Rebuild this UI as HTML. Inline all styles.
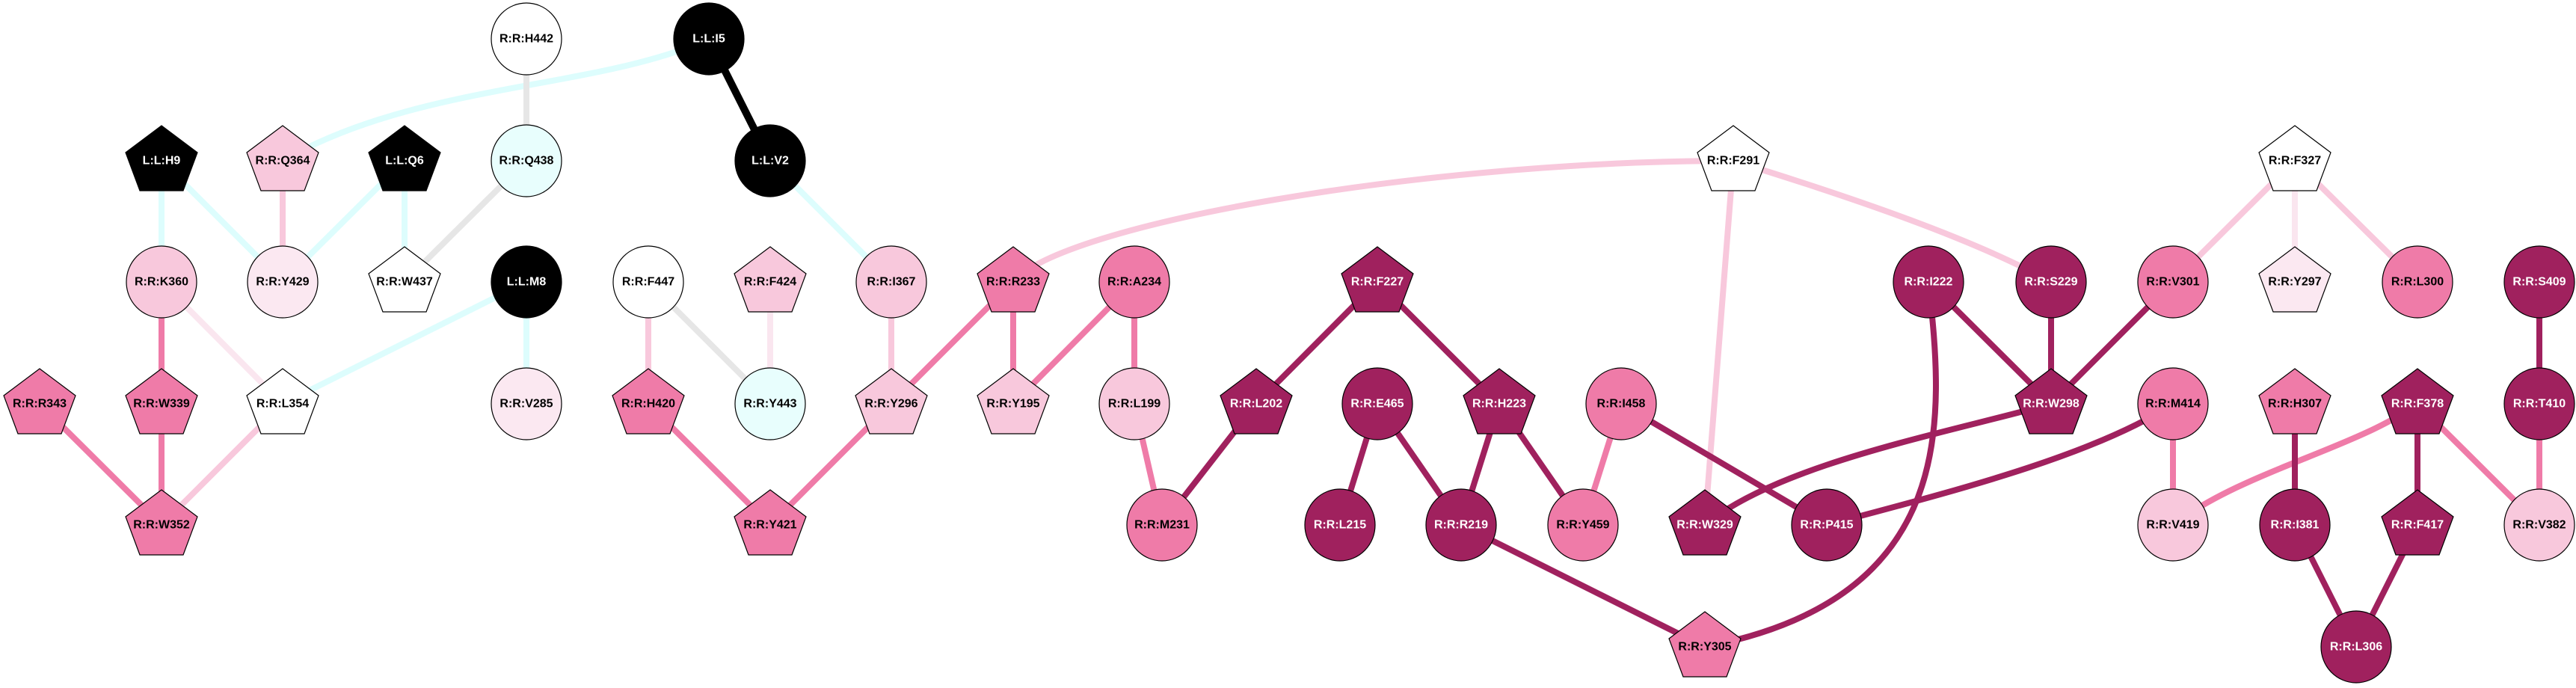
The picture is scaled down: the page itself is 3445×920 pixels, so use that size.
<!DOCTYPE html>
<html><head><meta charset="utf-8"><style>
html,body{margin:0;padding:0;background:#fff;}
svg{display:block;}
text{font-family:"Liberation Sans",sans-serif;font-weight:bold;font-size:16px;text-anchor:middle;dominant-baseline:central;}
.w{fill:#fff}.b{fill:#000}
</style></head><body>
<svg width="3445" height="920" viewBox="0 0 3445 920" xmlns="http://www.w3.org/2000/svg">
<defs>
<polygon id="P" points="0,-47 48,-11 29,40 -29,40 -48,-11" stroke="#000" stroke-width="1.2"/>
</defs>
<g fill="none" stroke-width="8">
<!-- cyan -->
<g stroke="#DDFDFD">
<path d="M948 52 C 800 120, 560 110, 378 215"/>
<line x1="1030" y1="215" x2="1192" y2="377"/>
<line x1="216" y1="215" x2="216" y2="377"/>
<line x1="216" y1="215" x2="378" y2="377"/>
<line x1="541" y1="215" x2="378" y2="377"/>
<line x1="541" y1="215" x2="541" y2="377"/>
<line x1="704" y1="377" x2="378" y2="540"/>
<line x1="704" y1="377" x2="704" y2="540"/>
</g>
<line x1="948" y1="52" x2="1030" y2="215" stroke="#000" stroke-width="10"/>
<!-- gray -->
<g stroke="#E6E6E6">
<line x1="704" y1="52" x2="704" y2="215"/>
<line x1="704" y1="215" x2="541" y2="377"/>
<line x1="867" y1="377" x2="1030" y2="540"/>
</g>
<!-- very light -->
<g stroke="#FAE6EF">
<line x1="216" y1="377" x2="378" y2="540"/>
<line x1="1030" y1="377" x2="1030" y2="540"/>
<line x1="3069" y1="215" x2="3069" y2="377"/>
</g>
<!-- light pink -->
<g stroke="#F8C8DC">
<line x1="378" y1="215" x2="378" y2="377"/>
<line x1="378" y1="540" x2="216" y2="702"/>
<line x1="867" y1="377" x2="867" y2="540"/>
<line x1="1192" y1="377" x2="1192" y2="540"/>
<path d="M1355 377 C 1420 300, 1900 215, 2318 215"/>
<path d="M2318 215 C 2480 265, 2640 320, 2743 377"/>
<line x1="2318" y1="215" x2="2280" y2="702"/>
<line x1="3069" y1="215" x2="2906" y2="377"/>
<line x1="3069" y1="215" x2="3233" y2="377"/>
</g>
<!-- medium -->
<g stroke="#EF7BA8">
<line x1="216" y1="377" x2="216" y2="540"/>
<line x1="53" y1="540" x2="216" y2="702"/>
<line x1="216" y1="540" x2="216" y2="702"/>
<line x1="867" y1="540" x2="1030" y2="702"/>
<line x1="1192" y1="540" x2="1030" y2="702"/>
<line x1="1355" y1="377" x2="1192" y2="540"/>
<line x1="1355" y1="377" x2="1355" y2="540"/>
<line x1="1517" y1="377" x2="1355" y2="540"/>
<line x1="1517" y1="377" x2="1517" y2="540"/>
<line x1="1517" y1="540" x2="1554" y2="702"/>
<line x1="2168" y1="540" x2="2117" y2="702"/>
<line x1="2906" y1="540" x2="2906" y2="702"/>
<path d="M3233 540 C 3150 600, 3000 630, 2906 702"/>
<line x1="3233" y1="540" x2="3396" y2="702"/>
<line x1="3396" y1="540" x2="3396" y2="702"/>
</g>
<!-- dark -->
<g stroke="#A0215E">
<line x1="1842" y1="377" x2="1680" y2="540"/>
<line x1="1842" y1="377" x2="2005" y2="540"/>
<line x1="1680" y1="540" x2="1554" y2="702"/>
<line x1="1842" y1="540" x2="1792" y2="702"/>
<line x1="1842" y1="540" x2="1954" y2="702"/>
<line x1="2005" y1="540" x2="1954" y2="702"/>
<line x1="2005" y1="540" x2="2117" y2="702"/>
<line x1="2168" y1="540" x2="2443" y2="702"/>
<line x1="1954" y1="702" x2="2280" y2="865"/>
<line x1="2579" y1="377" x2="2743" y2="540"/>
<line x1="2743" y1="377" x2="2743" y2="540"/>
<line x1="2906" y1="377" x2="2743" y2="540"/>
<path d="M2743 540 C 2600 580, 2380 620, 2280 702"/>
<path d="M2906 540 C 2800 610, 2600 660, 2443 702"/>
<path d="M2579 377 C 2600 560, 2620 800, 2280 865"/>
<line x1="3069" y1="540" x2="3069" y2="702"/>
<line x1="3233" y1="540" x2="3233" y2="702"/>
<line x1="3396" y1="377" x2="3396" y2="540"/>
<line x1="3069" y1="702" x2="3151" y2="865"/>
<line x1="3233" y1="702" x2="3151" y2="865"/>
</g>
</g>
<g stroke="#000" stroke-width="1.2">
<!-- circles -->
<ellipse cx="704" cy="52" rx="47" ry="48" fill="#fff"/>
<ellipse cx="948" cy="52" rx="47" ry="48" fill="#000"/>
<ellipse cx="704" cy="215" rx="47" ry="48" fill="#E8FEFD"/>
<ellipse cx="1030" cy="215" rx="47" ry="48" fill="#000"/>
<ellipse cx="216" cy="377" rx="47" ry="48" fill="#F8C8DC"/>
<ellipse cx="378" cy="377" rx="47" ry="48" fill="#FBE8F1"/>
<ellipse cx="704" cy="377" rx="47" ry="48" fill="#000"/>
<ellipse cx="867" cy="377" rx="47" ry="48" fill="#fff"/>
<ellipse cx="1192" cy="377" rx="47" ry="48" fill="#F8C8DC"/>
<ellipse cx="1517" cy="377" rx="47" ry="48" fill="#EF7BA8"/>
<ellipse cx="2579" cy="377" rx="47" ry="48" fill="#A0215E"/>
<ellipse cx="2743" cy="377" rx="47" ry="48" fill="#A0215E"/>
<ellipse cx="2906" cy="377" rx="47" ry="48" fill="#EF7BA8"/>
<ellipse cx="3233" cy="377" rx="47" ry="48" fill="#EF7BA8"/>
<ellipse cx="3396" cy="377" rx="47" ry="48" fill="#A0215E"/>
<ellipse cx="704" cy="540" rx="47" ry="48" fill="#FBE8F1"/>
<ellipse cx="1030" cy="540" rx="47" ry="48" fill="#E8FEFD"/>
<ellipse cx="1517" cy="540" rx="47" ry="48" fill="#F8C8DC"/>
<ellipse cx="1842" cy="540" rx="47" ry="48" fill="#A0215E"/>
<ellipse cx="2168" cy="540" rx="47" ry="48" fill="#EF7BA8"/>
<ellipse cx="2906" cy="540" rx="47" ry="48" fill="#EF7BA8"/>
<ellipse cx="3396" cy="540" rx="47" ry="48" fill="#A0215E"/>
<ellipse cx="1554" cy="702" rx="47" ry="48" fill="#EF7BA8"/>
<ellipse cx="1792" cy="702" rx="47" ry="48" fill="#A0215E"/>
<ellipse cx="1954" cy="702" rx="47" ry="48" fill="#A0215E"/>
<ellipse cx="2117" cy="702" rx="47" ry="48" fill="#EF7BA8"/>
<ellipse cx="2443" cy="702" rx="47" ry="48" fill="#A0215E"/>
<ellipse cx="2906" cy="702" rx="47" ry="48" fill="#F8C8DC"/>
<ellipse cx="3069" cy="702" rx="47" ry="48" fill="#A0215E"/>
<ellipse cx="3396" cy="702" rx="47" ry="48" fill="#F8C8DC"/>
<ellipse cx="3151" cy="865" rx="47" ry="48" fill="#A0215E"/>
</g>
<!-- pentagons -->
<use href="#P" x="216" y="215" fill="#000"/>
<use href="#P" x="378" y="215" fill="#F8C8DC"/>
<use href="#P" x="541" y="215" fill="#000"/>
<use href="#P" x="2318" y="215" fill="#fff"/>
<use href="#P" x="3069" y="215" fill="#fff"/>
<use href="#P" x="541" y="377" fill="#fff"/>
<use href="#P" x="1030" y="377" fill="#F8C8DC"/>
<use href="#P" x="1355" y="377" fill="#EF7BA8"/>
<use href="#P" x="1842" y="377" fill="#A0215E"/>
<use href="#P" x="3069" y="377" fill="#FBE8F1"/>
<use href="#P" x="53" y="540" fill="#EF7BA8"/>
<use href="#P" x="216" y="540" fill="#EF7BA8"/>
<use href="#P" x="378" y="540" fill="#fff"/>
<use href="#P" x="867" y="540" fill="#EF7BA8"/>
<use href="#P" x="1192" y="540" fill="#F8C8DC"/>
<use href="#P" x="1355" y="540" fill="#F8C8DC"/>
<use href="#P" x="1680" y="540" fill="#A0215E"/>
<use href="#P" x="2005" y="540" fill="#A0215E"/>
<use href="#P" x="2743" y="540" fill="#A0215E"/>
<use href="#P" x="3069" y="540" fill="#EF7BA8"/>
<use href="#P" x="3233" y="540" fill="#A0215E"/>
<use href="#P" x="216" y="702" fill="#EF7BA8"/>
<use href="#P" x="1030" y="702" fill="#EF7BA8"/>
<use href="#P" x="2280" y="702" fill="#A0215E"/>
<use href="#P" x="3233" y="702" fill="#A0215E"/>
<use href="#P" x="2280" y="865" fill="#EF7BA8"/>
<!-- labels -->
<text x="704" y="52">R:R:H442</text>
<text x="948" y="52" class="w">L:L:I5</text>
<text x="216" y="215" class="w">L:L:H9</text>
<text x="378" y="215">R:R:Q364</text>
<text x="541" y="215" class="w">L:L:Q6</text>
<text x="704" y="215">R:R:Q438</text>
<text x="1030" y="215" class="w">L:L:V2</text>
<text x="2318" y="215">R:R:F291</text>
<text x="3069" y="215">R:R:F327</text>
<text x="216" y="377">R:R:K360</text>
<text x="378" y="377">R:R:Y429</text>
<text x="541" y="377">R:R:W437</text>
<text x="704" y="377" class="w">L:L:M8</text>
<text x="867" y="377">R:R:F447</text>
<text x="1030" y="377">R:R:F424</text>
<text x="1192" y="377">R:R:I367</text>
<text x="1355" y="377">R:R:R233</text>
<text x="1517" y="377">R:R:A234</text>
<text x="1842" y="377" class="w">R:R:F227</text>
<text x="2579" y="377" class="w">R:R:I222</text>
<text x="2743" y="377" class="w">R:R:S229</text>
<text x="2906" y="377">R:R:V301</text>
<text x="3069" y="377">R:R:Y297</text>
<text x="3233" y="377">R:R:L300</text>
<text x="3396" y="377" class="w">R:R:S409</text>
<text x="53" y="540">R:R:R343</text>
<text x="216" y="540">R:R:W339</text>
<text x="378" y="540">R:R:L354</text>
<text x="704" y="540">R:R:V285</text>
<text x="867" y="540">R:R:H420</text>
<text x="1030" y="540">R:R:Y443</text>
<text x="1192" y="540">R:R:Y296</text>
<text x="1355" y="540">R:R:Y195</text>
<text x="1517" y="540">R:R:L199</text>
<text x="1680" y="540" class="w">R:R:L202</text>
<text x="1842" y="540" class="w">R:R:E465</text>
<text x="2005" y="540" class="w">R:R:H223</text>
<text x="2168" y="540">R:R:I458</text>
<text x="2743" y="540" class="w">R:R:W298</text>
<text x="2906" y="540">R:R:M414</text>
<text x="3069" y="540">R:R:H307</text>
<text x="3233" y="540" class="w">R:R:F378</text>
<text x="3396" y="540" class="w">R:R:T410</text>
<text x="216" y="702">R:R:W352</text>
<text x="1030" y="702">R:R:Y421</text>
<text x="1554" y="702">R:R:M231</text>
<text x="1792" y="702" class="w">R:R:L215</text>
<text x="1954" y="702" class="w">R:R:R219</text>
<text x="2117" y="702">R:R:Y459</text>
<text x="2280" y="702" class="w">R:R:W329</text>
<text x="2443" y="702" class="w">R:R:P415</text>
<text x="2906" y="702">R:R:V419</text>
<text x="3069" y="702" class="w">R:R:I381</text>
<text x="3233" y="702" class="w">R:R:F417</text>
<text x="3396" y="702">R:R:V382</text>
<text x="2280" y="865">R:R:Y305</text>
<text x="3151" y="865" class="w">R:R:L306</text>
</svg>
</body></html>
